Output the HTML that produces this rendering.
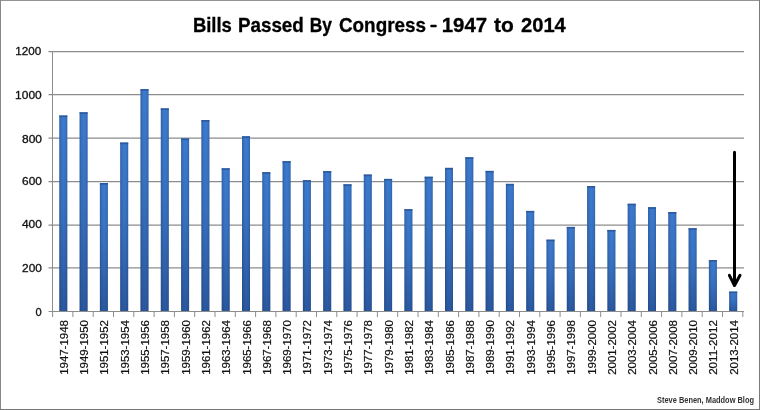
<!DOCTYPE html>
<html><head><meta charset="utf-8"><style>
html,body{margin:0;padding:0;background:#fff;}
body{width:760px;height:410px;overflow:hidden;}
svg{display:block;will-change:transform;}
text{font-family:"Liberation Sans",sans-serif;}
</style></head><body>
<svg width="760" height="410" viewBox="0 0 760 410">
<defs>
<linearGradient id="bv" x1="0" y1="0" x2="0" y2="1">
<stop offset="0" stop-color="#3c7bd0"/>
<stop offset="0.45" stop-color="#3872c2"/>
<stop offset="1" stop-color="#2a58a0"/>
</linearGradient>
<linearGradient id="bh" x1="0" y1="0" x2="1" y2="0">
<stop offset="0" stop-color="#1a2e50" stop-opacity="0.35"/>
<stop offset="0.3" stop-color="#1a2e50" stop-opacity="0.05"/>
<stop offset="0.55" stop-color="#1a2e50" stop-opacity="0"/>
<stop offset="0.8" stop-color="#1a2e50" stop-opacity="0.08"/>
<stop offset="1" stop-color="#1a2e50" stop-opacity="0.3"/>
</linearGradient>
</defs>
<rect x="0" y="0" width="760" height="410" fill="#fff"/>

<line x1="48.5" y1="267.9" x2="744.0" y2="267.9" stroke="#8c8c8c" stroke-width="1.25"/>
<line x1="48.5" y1="225.2" x2="744.0" y2="225.2" stroke="#8c8c8c" stroke-width="1.25"/>
<line x1="48.5" y1="181.5" x2="744.0" y2="181.5" stroke="#8c8c8c" stroke-width="1.25"/>
<line x1="48.5" y1="138.2" x2="744.0" y2="138.2" stroke="#8c8c8c" stroke-width="1.25"/>
<line x1="48.5" y1="94.5" x2="744.0" y2="94.5" stroke="#8c8c8c" stroke-width="1.25"/>
<line x1="48.5" y1="51.6" x2="744.0" y2="51.6" stroke="#8c8c8c" stroke-width="1.25"/>
<rect x="59.30" y="115.53" width="8.0" height="195.97" fill="url(#bv)"/>
<rect x="59.30" y="115.53" width="8.0" height="195.97" fill="url(#bh)"/>
<rect x="59.30" y="115.53" width="8.0" height="1.6" fill="#2d5a9c"/>
<rect x="79.60" y="112.29" width="8.0" height="199.21" fill="url(#bv)"/>
<rect x="79.60" y="112.29" width="8.0" height="199.21" fill="url(#bh)"/>
<rect x="79.60" y="112.29" width="8.0" height="1.6" fill="#2d5a9c"/>
<rect x="99.90" y="183.02" width="8.0" height="128.48" fill="url(#bv)"/>
<rect x="99.90" y="183.02" width="8.0" height="128.48" fill="url(#bh)"/>
<rect x="99.90" y="183.02" width="8.0" height="1.6" fill="#2d5a9c"/>
<rect x="120.20" y="142.57" width="8.0" height="168.93" fill="url(#bv)"/>
<rect x="120.20" y="142.57" width="8.0" height="168.93" fill="url(#bh)"/>
<rect x="120.20" y="142.57" width="8.0" height="1.6" fill="#2d5a9c"/>
<rect x="140.50" y="89.14" width="8.0" height="222.36" fill="url(#bv)"/>
<rect x="140.50" y="89.14" width="8.0" height="222.36" fill="url(#bh)"/>
<rect x="140.50" y="89.14" width="8.0" height="1.6" fill="#2d5a9c"/>
<rect x="160.80" y="108.39" width="8.0" height="203.11" fill="url(#bv)"/>
<rect x="160.80" y="108.39" width="8.0" height="203.11" fill="url(#bh)"/>
<rect x="160.80" y="108.39" width="8.0" height="1.6" fill="#2d5a9c"/>
<rect x="181.10" y="138.46" width="8.0" height="173.04" fill="url(#bv)"/>
<rect x="181.10" y="138.46" width="8.0" height="173.04" fill="url(#bh)"/>
<rect x="181.10" y="138.46" width="8.0" height="1.6" fill="#2d5a9c"/>
<rect x="201.40" y="120.07" width="8.0" height="191.43" fill="url(#bv)"/>
<rect x="201.40" y="120.07" width="8.0" height="191.43" fill="url(#bh)"/>
<rect x="201.40" y="120.07" width="8.0" height="1.6" fill="#2d5a9c"/>
<rect x="221.70" y="168.31" width="8.0" height="143.19" fill="url(#bv)"/>
<rect x="221.70" y="168.31" width="8.0" height="143.19" fill="url(#bh)"/>
<rect x="221.70" y="168.31" width="8.0" height="1.6" fill="#2d5a9c"/>
<rect x="242.00" y="136.30" width="8.0" height="175.20" fill="url(#bv)"/>
<rect x="242.00" y="136.30" width="8.0" height="175.20" fill="url(#bh)"/>
<rect x="242.00" y="136.30" width="8.0" height="1.6" fill="#2d5a9c"/>
<rect x="262.30" y="172.20" width="8.0" height="139.30" fill="url(#bv)"/>
<rect x="262.30" y="172.20" width="8.0" height="139.30" fill="url(#bh)"/>
<rect x="262.30" y="172.20" width="8.0" height="1.6" fill="#2d5a9c"/>
<rect x="282.60" y="161.17" width="8.0" height="150.33" fill="url(#bv)"/>
<rect x="282.60" y="161.17" width="8.0" height="150.33" fill="url(#bh)"/>
<rect x="282.60" y="161.17" width="8.0" height="1.6" fill="#2d5a9c"/>
<rect x="302.90" y="180.21" width="8.0" height="131.29" fill="url(#bv)"/>
<rect x="302.90" y="180.21" width="8.0" height="131.29" fill="url(#bh)"/>
<rect x="302.90" y="180.21" width="8.0" height="1.6" fill="#2d5a9c"/>
<rect x="323.20" y="171.12" width="8.0" height="140.38" fill="url(#bv)"/>
<rect x="323.20" y="171.12" width="8.0" height="140.38" fill="url(#bh)"/>
<rect x="323.20" y="171.12" width="8.0" height="1.6" fill="#2d5a9c"/>
<rect x="343.50" y="184.32" width="8.0" height="127.18" fill="url(#bv)"/>
<rect x="343.50" y="184.32" width="8.0" height="127.18" fill="url(#bh)"/>
<rect x="343.50" y="184.32" width="8.0" height="1.6" fill="#2d5a9c"/>
<rect x="363.80" y="174.58" width="8.0" height="136.92" fill="url(#bv)"/>
<rect x="363.80" y="174.58" width="8.0" height="136.92" fill="url(#bh)"/>
<rect x="363.80" y="174.58" width="8.0" height="1.6" fill="#2d5a9c"/>
<rect x="384.10" y="178.91" width="8.0" height="132.59" fill="url(#bv)"/>
<rect x="384.10" y="178.91" width="8.0" height="132.59" fill="url(#bh)"/>
<rect x="384.10" y="178.91" width="8.0" height="1.6" fill="#2d5a9c"/>
<rect x="404.40" y="209.19" width="8.0" height="102.31" fill="url(#bv)"/>
<rect x="404.40" y="209.19" width="8.0" height="102.31" fill="url(#bh)"/>
<rect x="404.40" y="209.19" width="8.0" height="1.6" fill="#2d5a9c"/>
<rect x="424.70" y="176.75" width="8.0" height="134.75" fill="url(#bv)"/>
<rect x="424.70" y="176.75" width="8.0" height="134.75" fill="url(#bh)"/>
<rect x="424.70" y="176.75" width="8.0" height="1.6" fill="#2d5a9c"/>
<rect x="445.00" y="167.88" width="8.0" height="143.62" fill="url(#bv)"/>
<rect x="445.00" y="167.88" width="8.0" height="143.62" fill="url(#bh)"/>
<rect x="445.00" y="167.88" width="8.0" height="1.6" fill="#2d5a9c"/>
<rect x="465.30" y="157.28" width="8.0" height="154.22" fill="url(#bv)"/>
<rect x="465.30" y="157.28" width="8.0" height="154.22" fill="url(#bh)"/>
<rect x="465.30" y="157.28" width="8.0" height="1.6" fill="#2d5a9c"/>
<rect x="485.60" y="170.91" width="8.0" height="140.59" fill="url(#bv)"/>
<rect x="485.60" y="170.91" width="8.0" height="140.59" fill="url(#bh)"/>
<rect x="485.60" y="170.91" width="8.0" height="1.6" fill="#2d5a9c"/>
<rect x="505.90" y="183.88" width="8.0" height="127.62" fill="url(#bv)"/>
<rect x="505.90" y="183.88" width="8.0" height="127.62" fill="url(#bh)"/>
<rect x="505.90" y="183.88" width="8.0" height="1.6" fill="#2d5a9c"/>
<rect x="526.20" y="210.92" width="8.0" height="100.58" fill="url(#bv)"/>
<rect x="526.20" y="210.92" width="8.0" height="100.58" fill="url(#bh)"/>
<rect x="526.20" y="210.92" width="8.0" height="1.6" fill="#2d5a9c"/>
<rect x="546.50" y="239.69" width="8.0" height="71.81" fill="url(#bv)"/>
<rect x="546.50" y="239.69" width="8.0" height="71.81" fill="url(#bh)"/>
<rect x="546.50" y="239.69" width="8.0" height="1.6" fill="#2d5a9c"/>
<rect x="566.80" y="226.93" width="8.0" height="84.57" fill="url(#bv)"/>
<rect x="566.80" y="226.93" width="8.0" height="84.57" fill="url(#bh)"/>
<rect x="566.80" y="226.93" width="8.0" height="1.6" fill="#2d5a9c"/>
<rect x="587.10" y="186.05" width="8.0" height="125.45" fill="url(#bv)"/>
<rect x="587.10" y="186.05" width="8.0" height="125.45" fill="url(#bh)"/>
<rect x="587.10" y="186.05" width="8.0" height="1.6" fill="#2d5a9c"/>
<rect x="607.40" y="229.95" width="8.0" height="81.55" fill="url(#bv)"/>
<rect x="607.40" y="229.95" width="8.0" height="81.55" fill="url(#bh)"/>
<rect x="607.40" y="229.95" width="8.0" height="1.6" fill="#2d5a9c"/>
<rect x="627.70" y="203.78" width="8.0" height="107.72" fill="url(#bv)"/>
<rect x="627.70" y="203.78" width="8.0" height="107.72" fill="url(#bh)"/>
<rect x="627.70" y="203.78" width="8.0" height="1.6" fill="#2d5a9c"/>
<rect x="648.00" y="207.24" width="8.0" height="104.26" fill="url(#bv)"/>
<rect x="648.00" y="207.24" width="8.0" height="104.26" fill="url(#bh)"/>
<rect x="648.00" y="207.24" width="8.0" height="1.6" fill="#2d5a9c"/>
<rect x="668.30" y="212.00" width="8.0" height="99.50" fill="url(#bv)"/>
<rect x="668.30" y="212.00" width="8.0" height="99.50" fill="url(#bh)"/>
<rect x="668.30" y="212.00" width="8.0" height="1.6" fill="#2d5a9c"/>
<rect x="688.60" y="228.22" width="8.0" height="83.28" fill="url(#bv)"/>
<rect x="688.60" y="228.22" width="8.0" height="83.28" fill="url(#bh)"/>
<rect x="688.60" y="228.22" width="8.0" height="1.6" fill="#2d5a9c"/>
<rect x="708.90" y="260.02" width="8.0" height="51.48" fill="url(#bv)"/>
<rect x="708.90" y="260.02" width="8.0" height="51.48" fill="url(#bh)"/>
<rect x="708.90" y="260.02" width="8.0" height="1.6" fill="#2d5a9c"/>
<rect x="729.20" y="291.60" width="8.0" height="19.90" fill="url(#bv)"/>
<rect x="729.20" y="291.60" width="8.0" height="19.90" fill="url(#bh)"/>
<rect x="729.20" y="291.60" width="8.0" height="1.6" fill="#2d5a9c"/>
<line x1="52.5" y1="51" x2="52.5" y2="312" stroke="#8c8c8c" stroke-width="1"/>
<line x1="48.5" y1="311.5" x2="744.0" y2="311.5" stroke="#8c8c8c" stroke-width="1"/>
<line x1="52.6" y1="311" x2="52.6" y2="317" stroke="#8c8c8c" stroke-width="1"/>
<line x1="72.9" y1="311" x2="72.9" y2="317" stroke="#8c8c8c" stroke-width="1"/>
<line x1="93.2" y1="311" x2="93.2" y2="317" stroke="#8c8c8c" stroke-width="1"/>
<line x1="113.5" y1="311" x2="113.5" y2="317" stroke="#8c8c8c" stroke-width="1"/>
<line x1="133.8" y1="311" x2="133.8" y2="317" stroke="#8c8c8c" stroke-width="1"/>
<line x1="154.1" y1="311" x2="154.1" y2="317" stroke="#8c8c8c" stroke-width="1"/>
<line x1="174.4" y1="311" x2="174.4" y2="317" stroke="#8c8c8c" stroke-width="1"/>
<line x1="194.7" y1="311" x2="194.7" y2="317" stroke="#8c8c8c" stroke-width="1"/>
<line x1="215.0" y1="311" x2="215.0" y2="317" stroke="#8c8c8c" stroke-width="1"/>
<line x1="235.3" y1="311" x2="235.3" y2="317" stroke="#8c8c8c" stroke-width="1"/>
<line x1="255.6" y1="311" x2="255.6" y2="317" stroke="#8c8c8c" stroke-width="1"/>
<line x1="275.9" y1="311" x2="275.9" y2="317" stroke="#8c8c8c" stroke-width="1"/>
<line x1="296.2" y1="311" x2="296.2" y2="317" stroke="#8c8c8c" stroke-width="1"/>
<line x1="316.5" y1="311" x2="316.5" y2="317" stroke="#8c8c8c" stroke-width="1"/>
<line x1="336.8" y1="311" x2="336.8" y2="317" stroke="#8c8c8c" stroke-width="1"/>
<line x1="357.1" y1="311" x2="357.1" y2="317" stroke="#8c8c8c" stroke-width="1"/>
<line x1="377.4" y1="311" x2="377.4" y2="317" stroke="#8c8c8c" stroke-width="1"/>
<line x1="397.7" y1="311" x2="397.7" y2="317" stroke="#8c8c8c" stroke-width="1"/>
<line x1="418.0" y1="311" x2="418.0" y2="317" stroke="#8c8c8c" stroke-width="1"/>
<line x1="438.3" y1="311" x2="438.3" y2="317" stroke="#8c8c8c" stroke-width="1"/>
<line x1="458.6" y1="311" x2="458.6" y2="317" stroke="#8c8c8c" stroke-width="1"/>
<line x1="478.9" y1="311" x2="478.9" y2="317" stroke="#8c8c8c" stroke-width="1"/>
<line x1="499.2" y1="311" x2="499.2" y2="317" stroke="#8c8c8c" stroke-width="1"/>
<line x1="519.5" y1="311" x2="519.5" y2="317" stroke="#8c8c8c" stroke-width="1"/>
<line x1="539.8" y1="311" x2="539.8" y2="317" stroke="#8c8c8c" stroke-width="1"/>
<line x1="560.1" y1="311" x2="560.1" y2="317" stroke="#8c8c8c" stroke-width="1"/>
<line x1="580.4" y1="311" x2="580.4" y2="317" stroke="#8c8c8c" stroke-width="1"/>
<line x1="600.7" y1="311" x2="600.7" y2="317" stroke="#8c8c8c" stroke-width="1"/>
<line x1="621.0" y1="311" x2="621.0" y2="317" stroke="#8c8c8c" stroke-width="1"/>
<line x1="641.3" y1="311" x2="641.3" y2="317" stroke="#8c8c8c" stroke-width="1"/>
<line x1="661.6" y1="311" x2="661.6" y2="317" stroke="#8c8c8c" stroke-width="1"/>
<line x1="681.9" y1="311" x2="681.9" y2="317" stroke="#8c8c8c" stroke-width="1"/>
<line x1="702.2" y1="311" x2="702.2" y2="317" stroke="#8c8c8c" stroke-width="1"/>
<line x1="722.5" y1="311" x2="722.5" y2="317" stroke="#8c8c8c" stroke-width="1"/>
<line x1="742.8" y1="311" x2="742.8" y2="317" stroke="#8c8c8c" stroke-width="1"/>
<text x="35.41" y="315.55" font-size="11" fill="#111" stroke="#111" stroke-width="0.3" textLength="6.18" lengthAdjust="spacingAndGlyphs">0</text>
<text x="22.07" y="271.95" font-size="11" fill="#111" stroke="#111" stroke-width="0.3" textLength="19.83" lengthAdjust="spacingAndGlyphs">200</text>
<text x="21.9" y="228.45" font-size="11" fill="#111" stroke="#111" stroke-width="0.3" textLength="20.0" lengthAdjust="spacingAndGlyphs">400</text>
<text x="22.07" y="185.45" font-size="11" fill="#111" stroke="#111" stroke-width="0.3" textLength="19.83" lengthAdjust="spacingAndGlyphs">600</text>
<text x="21.96" y="142.55" font-size="11" fill="#111" stroke="#111" stroke-width="0.3" textLength="20.04" lengthAdjust="spacingAndGlyphs">800</text>
<text x="15.1" y="98.9" font-size="11" fill="#111" stroke="#111" stroke-width="0.3" textLength="26.6" lengthAdjust="spacingAndGlyphs">1000</text>
<text x="15.3" y="54.85" font-size="11" fill="#111" stroke="#111" stroke-width="0.3" textLength="26.0" lengthAdjust="spacingAndGlyphs">1200</text>
<text transform="translate(67.88,320.1) rotate(-90)" font-size="10.4" text-anchor="end" fill="#111" stroke="#111" stroke-width="0.2" textLength="54.75" lengthAdjust="spacingAndGlyphs">1947-1948</text>
<text transform="translate(88.17,320.1) rotate(-90)" font-size="10.4" text-anchor="end" fill="#111" stroke="#111" stroke-width="0.2" textLength="54.75" lengthAdjust="spacingAndGlyphs">1949-1950</text>
<text transform="translate(108.47,320.1) rotate(-90)" font-size="10.4" text-anchor="end" fill="#111" stroke="#111" stroke-width="0.2" textLength="54.75" lengthAdjust="spacingAndGlyphs">1951-1952</text>
<text transform="translate(128.78,320.1) rotate(-90)" font-size="10.4" text-anchor="end" fill="#111" stroke="#111" stroke-width="0.2" textLength="54.75" lengthAdjust="spacingAndGlyphs">1953-1954</text>
<text transform="translate(149.07,320.1) rotate(-90)" font-size="10.4" text-anchor="end" fill="#111" stroke="#111" stroke-width="0.2" textLength="54.75" lengthAdjust="spacingAndGlyphs">1955-1956</text>
<text transform="translate(169.38,320.1) rotate(-90)" font-size="10.4" text-anchor="end" fill="#111" stroke="#111" stroke-width="0.2" textLength="54.75" lengthAdjust="spacingAndGlyphs">1957-1958</text>
<text transform="translate(189.68,320.1) rotate(-90)" font-size="10.4" text-anchor="end" fill="#111" stroke="#111" stroke-width="0.2" textLength="54.75" lengthAdjust="spacingAndGlyphs">1959-1960</text>
<text transform="translate(209.97,320.1) rotate(-90)" font-size="10.4" text-anchor="end" fill="#111" stroke="#111" stroke-width="0.2" textLength="54.75" lengthAdjust="spacingAndGlyphs">1961-1962</text>
<text transform="translate(230.28,320.1) rotate(-90)" font-size="10.4" text-anchor="end" fill="#111" stroke="#111" stroke-width="0.2" textLength="54.75" lengthAdjust="spacingAndGlyphs">1963-1964</text>
<text transform="translate(250.58,320.1) rotate(-90)" font-size="10.4" text-anchor="end" fill="#111" stroke="#111" stroke-width="0.2" textLength="54.75" lengthAdjust="spacingAndGlyphs">1965-1966</text>
<text transform="translate(270.88,320.1) rotate(-90)" font-size="10.4" text-anchor="end" fill="#111" stroke="#111" stroke-width="0.2" textLength="54.75" lengthAdjust="spacingAndGlyphs">1967-1968</text>
<text transform="translate(291.18,320.1) rotate(-90)" font-size="10.4" text-anchor="end" fill="#111" stroke="#111" stroke-width="0.2" textLength="54.75" lengthAdjust="spacingAndGlyphs">1969-1970</text>
<text transform="translate(311.48,320.1) rotate(-90)" font-size="10.4" text-anchor="end" fill="#111" stroke="#111" stroke-width="0.2" textLength="54.75" lengthAdjust="spacingAndGlyphs">1971-1972</text>
<text transform="translate(331.78,320.1) rotate(-90)" font-size="10.4" text-anchor="end" fill="#111" stroke="#111" stroke-width="0.2" textLength="54.75" lengthAdjust="spacingAndGlyphs">1973-1974</text>
<text transform="translate(352.07,320.1) rotate(-90)" font-size="10.4" text-anchor="end" fill="#111" stroke="#111" stroke-width="0.2" textLength="54.75" lengthAdjust="spacingAndGlyphs">1975-1976</text>
<text transform="translate(372.38,320.1) rotate(-90)" font-size="10.4" text-anchor="end" fill="#111" stroke="#111" stroke-width="0.2" textLength="54.75" lengthAdjust="spacingAndGlyphs">1977-1978</text>
<text transform="translate(392.68,320.1) rotate(-90)" font-size="10.4" text-anchor="end" fill="#111" stroke="#111" stroke-width="0.2" textLength="54.75" lengthAdjust="spacingAndGlyphs">1979-1980</text>
<text transform="translate(412.98,320.1) rotate(-90)" font-size="10.4" text-anchor="end" fill="#111" stroke="#111" stroke-width="0.2" textLength="54.75" lengthAdjust="spacingAndGlyphs">1981-1982</text>
<text transform="translate(433.28,320.1) rotate(-90)" font-size="10.4" text-anchor="end" fill="#111" stroke="#111" stroke-width="0.2" textLength="54.75" lengthAdjust="spacingAndGlyphs">1983-1984</text>
<text transform="translate(453.57,320.1) rotate(-90)" font-size="10.4" text-anchor="end" fill="#111" stroke="#111" stroke-width="0.2" textLength="54.75" lengthAdjust="spacingAndGlyphs">1985-1986</text>
<text transform="translate(473.88,320.1) rotate(-90)" font-size="10.4" text-anchor="end" fill="#111" stroke="#111" stroke-width="0.2" textLength="54.75" lengthAdjust="spacingAndGlyphs">1987-1988</text>
<text transform="translate(494.18,320.1) rotate(-90)" font-size="10.4" text-anchor="end" fill="#111" stroke="#111" stroke-width="0.2" textLength="54.75" lengthAdjust="spacingAndGlyphs">1989-1990</text>
<text transform="translate(514.48,320.1) rotate(-90)" font-size="10.4" text-anchor="end" fill="#111" stroke="#111" stroke-width="0.2" textLength="54.75" lengthAdjust="spacingAndGlyphs">1991-1992</text>
<text transform="translate(534.78,320.1) rotate(-90)" font-size="10.4" text-anchor="end" fill="#111" stroke="#111" stroke-width="0.2" textLength="54.75" lengthAdjust="spacingAndGlyphs">1993-1994</text>
<text transform="translate(555.08,320.1) rotate(-90)" font-size="10.4" text-anchor="end" fill="#111" stroke="#111" stroke-width="0.2" textLength="54.75" lengthAdjust="spacingAndGlyphs">1995-1996</text>
<text transform="translate(575.38,320.1) rotate(-90)" font-size="10.4" text-anchor="end" fill="#111" stroke="#111" stroke-width="0.2" textLength="54.75" lengthAdjust="spacingAndGlyphs">1997-1998</text>
<text transform="translate(595.68,320.1) rotate(-90)" font-size="10.4" text-anchor="end" fill="#111" stroke="#111" stroke-width="0.2" textLength="54.75" lengthAdjust="spacingAndGlyphs">1999-2000</text>
<text transform="translate(615.98,320.1) rotate(-90)" font-size="10.4" text-anchor="end" fill="#111" stroke="#111" stroke-width="0.2" textLength="54.75" lengthAdjust="spacingAndGlyphs">2001-2002</text>
<text transform="translate(636.27,320.1) rotate(-90)" font-size="10.4" text-anchor="end" fill="#111" stroke="#111" stroke-width="0.2" textLength="54.75" lengthAdjust="spacingAndGlyphs">2003-2004</text>
<text transform="translate(656.58,320.1) rotate(-90)" font-size="10.4" text-anchor="end" fill="#111" stroke="#111" stroke-width="0.2" textLength="54.75" lengthAdjust="spacingAndGlyphs">2005-2006</text>
<text transform="translate(676.88,320.1) rotate(-90)" font-size="10.4" text-anchor="end" fill="#111" stroke="#111" stroke-width="0.2" textLength="54.75" lengthAdjust="spacingAndGlyphs">2007-2008</text>
<text transform="translate(697.18,320.1) rotate(-90)" font-size="10.4" text-anchor="end" fill="#111" stroke="#111" stroke-width="0.2" textLength="54.75" lengthAdjust="spacingAndGlyphs">2009-2010</text>
<text transform="translate(717.48,320.1) rotate(-90)" font-size="10.4" text-anchor="end" fill="#111" stroke="#111" stroke-width="0.2" textLength="54.75" lengthAdjust="spacingAndGlyphs">2011-2012</text>
<text transform="translate(737.77,320.1) rotate(-90)" font-size="10.4" text-anchor="end" fill="#111" stroke="#111" stroke-width="0.2" textLength="54.75" lengthAdjust="spacingAndGlyphs">2013-2014</text>
<text x="192.9" y="31.6" font-size="19.7" font-weight="bold" fill="#000" stroke="#000" stroke-width="0.3" textLength="39.0" lengthAdjust="spacingAndGlyphs">Bills</text>
<text x="237.9" y="31.6" font-size="19.7" font-weight="bold" fill="#000" stroke="#000" stroke-width="0.3" textLength="65.94" lengthAdjust="spacingAndGlyphs">Passed</text>
<text x="309.7" y="31.6" font-size="19.7" font-weight="bold" fill="#000" stroke="#000" stroke-width="0.3" textLength="22.2" lengthAdjust="spacingAndGlyphs">By</text>
<text x="338.9" y="31.6" font-size="19.7" font-weight="bold" fill="#000" stroke="#000" stroke-width="0.3" textLength="87.2" lengthAdjust="spacingAndGlyphs">Congress</text>
<text x="441.75" y="31.6" font-size="19.7" font-weight="bold" fill="#000" stroke="#000" stroke-width="0.3" textLength="45.42" lengthAdjust="spacingAndGlyphs">1947</text>
<text x="494.1" y="31.6" font-size="19.7" font-weight="bold" fill="#000" stroke="#000" stroke-width="0.3" textLength="19.8" lengthAdjust="spacingAndGlyphs">to</text>
<text x="521.02" y="31.6" font-size="19.7" font-weight="bold" fill="#000" stroke="#000" stroke-width="0.3" textLength="44.78" lengthAdjust="spacingAndGlyphs">2014</text>
<rect x="430.4" y="24.8" width="6.2" height="2.4" rx="0.4" fill="#000"/>
<text x="657" y="403.2" font-size="8.4" font-weight="bold" fill="#333" textLength="97" lengthAdjust="spacingAndGlyphs">Steve Benen, Maddow Blog</text>
<line x1="734.5" y1="152.2" x2="734.5" y2="285" stroke="#000" stroke-width="3" stroke-linecap="round"/>
<polyline points="729.4,275.3 734.5,285.5 740,275.3" fill="none" stroke="#000" stroke-width="3" stroke-linejoin="round" stroke-linecap="round"/>
<rect x="0" y="0" width="760" height="1" fill="#939393"/>
<rect x="0" y="0" width="1" height="410" fill="#888"/>
<rect x="759" y="0" width="1" height="410" fill="#7a7a7a"/>
<rect x="0" y="409" width="760" height="1" fill="#777"/>
</svg></body></html>
